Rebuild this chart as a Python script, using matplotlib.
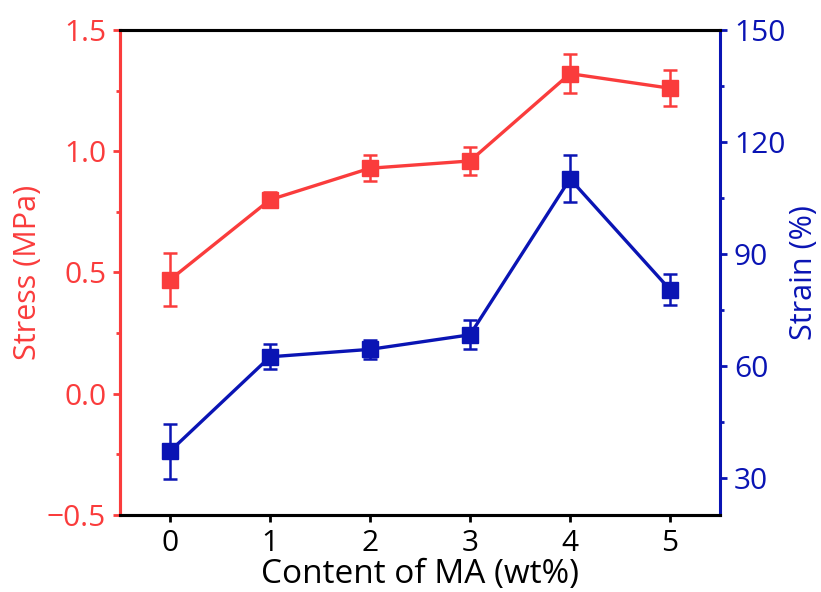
import matplotlib
matplotlib.use("Agg")
import matplotlib.pyplot as plt
from matplotlib.ticker import MultipleLocator, FuncFormatter

plt.rcParams['font.family'] = ['Open Sans', 'DejaVu Sans']

# data
content = [0, 1, 2, 3, 4, 5]
stress = [0.47, 0.80, 0.93, 0.96, 1.32, 1.26]
stress_err = [0.11, 0.03, 0.053, 0.057, 0.08, 0.075]
strain = [37.1, 62.4, 64.4, 68.3, 110.1, 80.4]
strain_err = [7.4, 3.4, 2.5, 3.9, 6.3, 4.2]

red = '#FA3C3C'
blue = '#0A14B4'

fig = plt.figure(figsize=(8.21, 5.92), dpi=100)
ax = fig.add_axes([0.1462, 0.1301, 0.7308, 0.8192])
ax2 = ax.twinx()

ax.errorbar(content, stress, yerr=stress_err, color=red, marker='s', markersize=12,
            linewidth=2.4, elinewidth=1.8, capsize=5, capthick=1.8)
ax2.errorbar(content, strain, yerr=strain_err, color=blue, marker='s', markersize=12,
             linewidth=2.4, elinewidth=1.8, capsize=5, capthick=1.8)

ax.set_xlim(-0.5, 5.5)
ax.set_ylim(-0.5, 1.5)
ax2.set_ylim(20, 150)
ax.xaxis.set_major_locator(MultipleLocator(1))
ax.yaxis.set_major_locator(MultipleLocator(0.5))
ax.yaxis.set_minor_locator(MultipleLocator(0.25))
ax2.yaxis.set_major_locator(MultipleLocator(30))
ax2.yaxis.set_minor_locator(MultipleLocator(15))
ax2.set_yticks([30, 60, 90, 120, 150])
ax.yaxis.set_major_formatter(FuncFormatter(
    lambda v, p: ('%.1f' % v).replace('-', '\u2212')))

for a in (ax, ax2):
    for s in a.spines.values():
        s.set_linewidth(2.2)
ax2.spines['left'].set_color(red)
ax2.spines['right'].set_color(blue)
ax2.spines['top'].set_color('black')
ax2.spines['bottom'].set_color('black')
ax.spines['left'].set_color(red)
ax.spines['right'].set_visible(False)

ax.tick_params(axis='x', which='major', direction='out', length=5, width=2,
               labelsize=21.5, colors='black', pad=5)
ax.tick_params(axis='y', which='major', direction='out', length=5, width=2,
               labelsize=21.5, colors=red, pad=5)
ax.tick_params(axis='y', which='minor', direction='out', length=3, width=2, colors=red)
ax2.tick_params(axis='y', which='major', direction='out', length=5, width=2,
                labelsize=21.5, colors=blue, pad=5)
ax2.tick_params(axis='y', which='minor', direction='out', length=3, width=2, colors=blue)

ax.set_xlabel('Content of MA (wt%)', fontsize=24, labelpad=0)
ax.set_ylabel('Stress (MPa)', fontsize=22, color=red, labelpad=3)
ax2.set_ylabel('Strain (%)', fontsize=22, color=blue, labelpad=3)

fig.savefig('out.png', dpi=100)
